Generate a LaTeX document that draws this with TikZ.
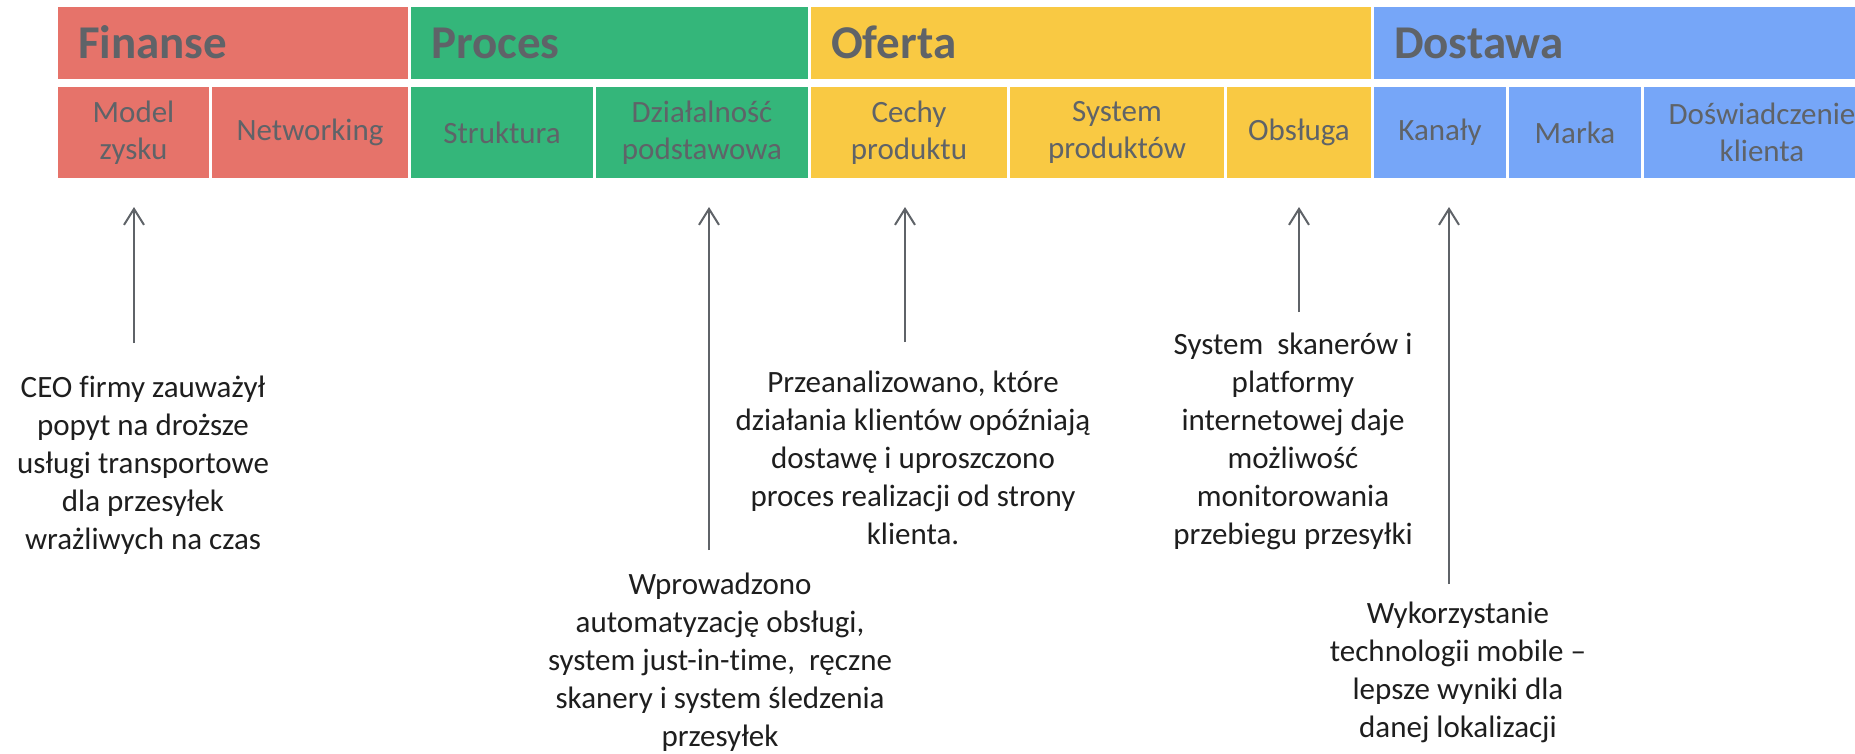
\documentclass[tikz,border=0pt]{standalone}
\usepackage{fontspec}
\setmainfont{Carlito}[Ligatures={NoCommon}]
\usetikzlibrary{arrows.meta}
\definecolor{finred}{HTML}{E6736A}
\definecolor{procgreen}{HTML}{34B67A}
\definecolor{offyellow}{HTML}{F9C943}
\definecolor{delblue}{HTML}{76A6F8}
\definecolor{labelgray}{HTML}{5F6368}
\definecolor{notetext}{HTML}{1E1E1E}
\begin{document}
\begin{tikzpicture}[x=1pt,y=-1pt,
  head/.style={anchor=north west, inner xsep=20pt, inner ysep=0pt, outer sep=0pt,
    minimum height=72pt, align=left, text height=30pt, text depth=0pt,
    font=\fontsize{47}{56}\selectfont\bfseries, text=labelgray},
  cell/.style={anchor=north west, inner sep=0pt, outer sep=0pt,
    minimum height=91pt, align=center,
    font=\fontsize{31}{37}\selectfont, text=labelgray},
  note/.style={align=center, inner sep=0pt,
    font=\fontsize{31}{38}\selectfont, text=notetext},
  arr/.style={draw=labelgray, line width=2pt,
    -{Straight Barb[length=16pt,width=20pt]}, shorten >=29pt}]

\useasboundingbox[fill=white] (0,0) rectangle (1855,753);

% top row: the four areas
\node[head, fill=finred,     minimum width=350pt, text width=310pt] (finanse) at (58,7)   {Finanse};
\node[head, fill=procgreen,  minimum width=397pt, text width=357pt] (proces)  at (411,7)  {Proces};
\node[head, fill=offyellow,  minimum width=560pt, text width=520pt] (oferta)  at (811,7)  {Oferta};
\node[head, fill=delblue,    minimum width=506pt, text width=466pt] (dostawa) at (1374,7) {Dostawa};

% second row: the ten types
\node[cell, fill=finred,    minimum width=151pt] (model)   at (58,87)   {Model\\zysku};
\node[cell, fill=finred,    minimum width=196pt] (network) at (212,87)  {Networking};
\node[cell, fill=procgreen, minimum width=182pt] (strukt)  at (411,87)  {Struktura};
\node[cell, fill=procgreen, minimum width=212pt] (dzial)   at (596,87)  {Działalność\\podstawowa};
\node[cell, fill=offyellow, minimum width=196pt] (cechy)   at (811,87)  {Cechy\\produktu};
\node[cell, fill=offyellow, minimum width=214pt] (sysprod) at (1010,87) {System\\produktów};
\node[cell, fill=offyellow, minimum width=144pt] (obsluga) at (1227,87) {Obsługa};
\node[cell, fill=delblue,   minimum width=132pt] (kanaly)  at (1374,87) {Kanały};
\node[cell, fill=delblue,   minimum width=132pt] (marka)   at (1509,87) {Marka};
\node[cell, fill=delblue,   minimum width=236pt] (doswiad) at (1644,87) {Doświadczenie\\klienta};

% descriptions
\node[note] (n1) at (143,465) {CEO firmy zauważył\\popyt na droższe\\usługi transportowe\\dla przesyłek\\wrażliwych na czas};
\node[note] (n2) at (720,662) {Wprowadzono\\automatyzację obsługi,\\system just-in-time,~ ręczne\\skanery i system śledzenia\\przesyłek};
\node[note] (n3) at (913,458) {Przeanalizowano, które\\działania klientów opóźniają\\dostawę i uproszczono\\proces realizacji od strony\\klienta.};
\node[note] (n4) at (1293,441) {System~ skanerów i\\platformy\\internetowej daje\\możliwość\\monitorowania\\przebiegu przesyłki};
\node[note] (n5) at (1458,672) {Wykorzystanie\\technologii mobile –\\lepsze wyniki dla\\danej lokalizacji};

% arrow tails
\coordinate (t1) at (134,343);
\coordinate (t2) at (709,550);
\coordinate (t3) at (905,342);
\coordinate (t4) at (1299,312);
\coordinate (t5) at (1449,584);

\draw[arr] (t1) -- (t1 |- model.south);
\draw[arr] (t2) -- (t2 |- dzial.south);
\draw[arr] (t3) -- (t3 |- cechy.south);
\draw[arr] (t4) -- (t4 |- obsluga.south);
\draw[arr] (t5) -- (t5 |- kanaly.south);
\end{tikzpicture}
\end{document}
